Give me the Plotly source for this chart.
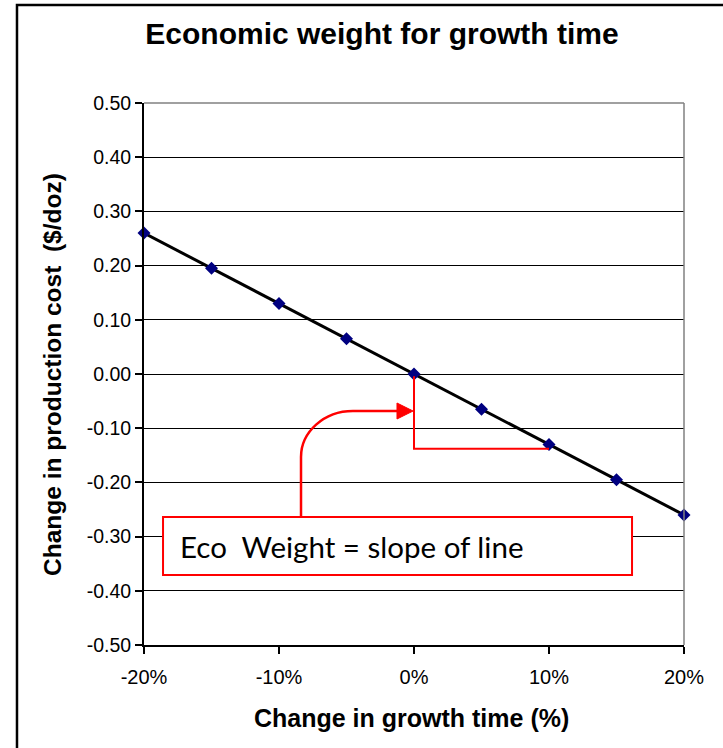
import plotly.graph_objects as go

# Change in growth time (fraction) and resulting change in production cost ($/doz)
growth_change = [-0.20, -0.15, -0.10, -0.05, 0.00, 0.05, 0.10, 0.15, 0.20]
cost_change = [0.26, 0.195, 0.13, 0.065, 0.00, -0.065, -0.13, -0.195, -0.26]

x_ticks = [-0.20, -0.10, 0.00, 0.10, 0.20]
x_ticktext = ["-20%", "-10%", "0%", "10%", "20%"]
y_ticks = [0.50, 0.40, 0.30, 0.20, 0.10, 0.00, -0.10, -0.20, -0.30, -0.40, -0.50]
y_ticktext = [f"{v:.2f}".replace("\u2212", "-") for v in y_ticks]

AX_FONT = "Liberation Sans, Arial, sans-serif"
RED = "#ff0000"

fig = go.Figure()
fig.add_trace(go.Scatter(
    x=growth_change, y=cost_change, mode="lines+markers",
    line=dict(color="#000000", width=3),
    marker=dict(symbol="diamond", size=10, color="#000080"),
    cliponaxis=False, showlegend=False, hoverinfo="skip",
))

shapes = [
    # outer chart frame (right and bottom edges fall outside the page)
    dict(type="rect", xref="paper", yref="paper", x0=-0.2352, x1=1.3, y0=-0.35, y1=1.1808,
         line=dict(color="#000000", width=2.5), fillcolor="rgba(0,0,0,0)", layer="below"),
    # plot-area border (top and right, gray)
    dict(type="line", xref="paper", yref="paper", x0=0, x1=1, y0=1, y1=1,
         line=dict(color="#808080", width=1.5), layer="above"),
    dict(type="line", xref="paper", yref="paper", x0=1, x1=1, y0=0, y1=1,
         line=dict(color="#808080", width=1.5), layer="above"),
    # rise/run bracket under the line
    dict(type="path", xref="x", yref="y",
         path="M 0,-0.004 L 0,-0.138 L 0.1,-0.138",
         line=dict(color=RED, width=2), layer="above"),
    # curved arrow from the label box to the bracket
    dict(type="path", xref="x", yref="y",
         path=("M -0.0837,-0.2638 L -0.0837,-0.1531 "
               "C -0.0837,-0.107 -0.0667,-0.0683 -0.0452,-0.0683 L -0.0126,-0.0683"),
         line=dict(color=RED, width=2.5), layer="above"),
    dict(type="path", xref="x", yref="y",
         path="M -0.0126,-0.0535 L -0.0007,-0.0683 L -0.0126,-0.0830 Z",
         fillcolor=RED, line=dict(color=RED, width=1), layer="above"),
    # label box
    dict(type="rect", xref="x", yref="y", x0=-0.1859, x1=0.1615, y0=-0.3708, y1=-0.2638,
         fillcolor="#ffffff", line=dict(color=RED, width=2), layer="above"),
]

annotations = [
    dict(text="Eco  Weight = slope of line", xref="x", yref="y", x=-0.1745, y=-0.318,
         xanchor="left", yanchor="middle", showarrow=False,
         font=dict(family="Lato, Carlito, sans-serif", size=29.5, color="#000000")),
    dict(text="<b>Change in production cost  ($/doz)</b>", xref="paper", yref="paper",
         x=-0.1704, y=0.5, textangle=-90, xanchor="center", yanchor="middle",
         showarrow=False, font=dict(family=AX_FONT, size=24.5, color="#000000")),
    dict(text="<b>Change in growth time (%)</b>", xref="paper", yref="paper",
         x=0.4945, y=-0.1347, xanchor="center", yanchor="middle",
         showarrow=False, font=dict(family=AX_FONT, size=25, color="#000000")),
]

fig.update_layout(
    width=723, height=748,
    margin=dict(l=144, r=39, t=103, b=103),
    paper_bgcolor="#ffffff", plot_bgcolor="#ffffff",
    title=dict(text="<b>Economic weight for growth time</b>", x=382 / 723, xanchor="center",
               y=1 - 33 / 748, yanchor="middle", yref="container",
               font=dict(family=AX_FONT, size=30, color="#000000")),
    shapes=shapes, annotations=annotations,
    xaxis=dict(range=[-0.20, 0.20], tickvals=x_ticks, ticktext=x_ticktext,
               showgrid=False, zeroline=False, showline=True, linecolor="#000000", linewidth=2,
               ticks="outside", ticklen=7, tickwidth=1.5, tickcolor="#000000",
               ticklabelstandoff=6,
               tickfont=dict(family=AX_FONT, size=20, color="#000000")),
    yaxis=dict(range=[-0.50, 0.50], tickvals=y_ticks, ticktext=y_ticktext,
               showgrid=True, gridcolor="#000000", gridwidth=1.3, zeroline=False,
               showline=True, linecolor="#000000", linewidth=2,
               ticks="outside", ticklen=7, tickwidth=1.5, tickcolor="#000000",
               tickfont=dict(family=AX_FONT, size=19.5, color="#000000")),
)

fig.write_html("out.html")
